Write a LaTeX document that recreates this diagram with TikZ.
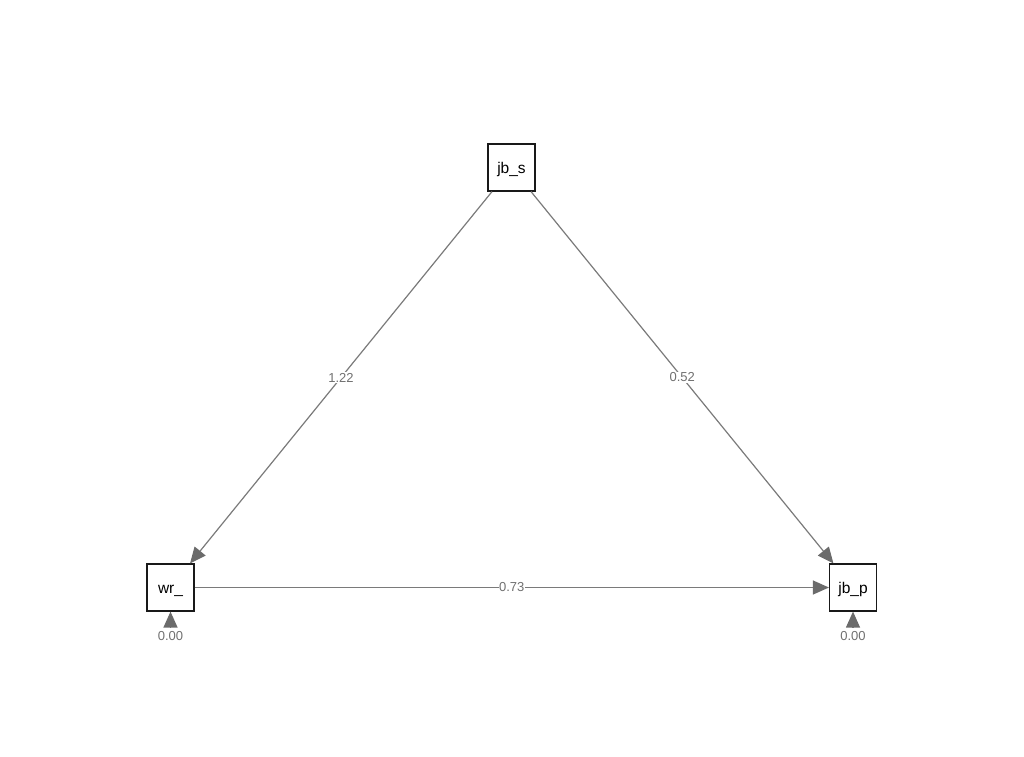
\documentclass[tikz,border=0pt]{standalone}
\usepackage{fontspec}
\setmainfont{Liberation Sans}
\usetikzlibrary{arrows.meta}
\definecolor{edgegray}{HTML}{7A7A7A}
\definecolor{tipgray}{HTML}{6B6B6B}
\definecolor{labgray}{HTML}{707070}
\tikzset{
  var/.style={draw=black!90, line width=1.15pt, minimum width=47pt, minimum height=47pt, inner sep=0pt, text height=11pt, text depth=0pt, font=\fontsize{15.5}{18}\selectfont},
  path/.style={draw=edgegray, line width=1.2pt, -{Triangle[length=16pt,width=14pt,color=tipgray]}},
  lab/.style={fill=white, inner sep=0.6pt, text=labgray, font=\fontsize{13}{15}\selectfont},
  reslab/.style={text=labgray, inner sep=0pt, font=\fontsize{13}{15}\selectfont}
}
\begin{document}
\begin{tikzpicture}[x=1pt,y=-1pt]
\useasboundingbox (0,0) rectangle (1024,756);
\node[var] (jbs) at (511.5,167.5) {jb\_s};
\node[var] (wr) at (170.5,587.5) {wr\_};
\node[var] (jbp) at (853,587.5) {jb\_p};
\coordinate (wrres) at (170.5,627);
\coordinate (jbpres) at (853,627);
\draw[path] (jbs) -- node[lab] {1.22} (wr);
\draw[path] (jbs) -- node[lab] {0.52} (jbp);
\draw[path] (wr) -- node[lab] {0.73} (jbp);
\draw[path] (wrres) -- (wr.south);
\draw[path] (jbpres) -- (jbp.south);
\node[reslab] (wrlab) at (170.5,636.5) {0.00};
\node[reslab] (jbplab) at (853,636.5) {0.00};
\end{tikzpicture}
\end{document}
